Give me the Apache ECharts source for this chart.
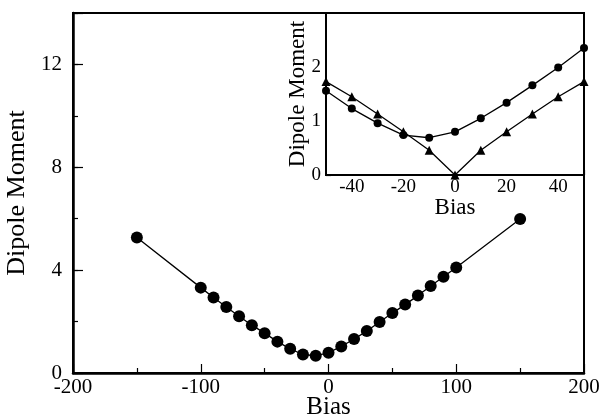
<!DOCTYPE html>
<html>
<head>
<meta charset="utf-8">
<script src="https://cdn.jsdelivr.net/npm/echarts@6/dist/echarts.min.js"></script>
<style>
  html, body { margin: 0; padding: 0; background: #fff; }
  #chart { width: 600px; height: 417px; }
</style>
</head>
<body>
<div id="chart"></div>
<script>
// main plot: bias vs dipole moment
var mainBias = [-150, -100, -90, -80, -70, -60, -50, -40, -30, -20, -10, 0, 10, 20, 30, 40, 50, 60, 70, 80, 90, 100, 150];
var mainDipole = [5.27, 3.32, 2.94, 2.57, 2.21, 1.86, 1.55, 1.22, 0.94, 0.72, 0.67, 0.79, 1.03, 1.32, 1.63, 1.98, 2.33, 2.66, 3.01, 3.38, 3.74, 4.10, 5.99];

// inset: zoom on -50..50, circles and triangles
var insetBias = [-50, -40, -30, -20, -10, 0, 10, 20, 30, 40, 50];
var insetCircle = [1.56, 1.23, 0.96, 0.74, 0.69, 0.80, 1.05, 1.34, 1.66, 1.99, 2.35];
var insetTriangle = [1.73, 1.45, 1.13, 0.80, 0.46, 0.00, 0.46, 0.80, 1.13, 1.45, 1.73];

var mainYLabels = [0, 4, 8, 12];
var insetXLabels = [-40, -20, 0, 20, 40];
var insetYLabels = [0, 1, 2];

function pairs(xs, ys) {
  var out = [];
  for (var i = 0; i < xs.length; i++) out.push([xs[i], ys[i]]);
  return out;
}

var font = 'Liberation Serif';
var dom = document.getElementById('chart');
var myChart = echarts.init(dom);

var option = {
  animation: false,
  grid: [
    { left: 73, top: 13, right: 16, bottom: 44, outerBoundsMode: 'none', containLabel: false,
      show: true, borderColor: '#000', borderWidth: 2, z: 1 },
    { left: 326, top: 13, right: 16, bottom: 242, outerBoundsMode: 'none', containLabel: false,
      show: true, borderColor: '#000', borderWidth: 2, backgroundColor: '#fff', z: 5 }
  ],
  xAxis: [
    {
      gridIndex: 0, type: 'value', min: -200, max: 200, interval: 100,
      name: 'Bias', nameLocation: 'middle', nameGap: 22, nameMoveOverlap: false,
      nameTextStyle: { fontFamily: font, fontSize: 25, color: '#000' },
      axisLine: { onZero: false, lineStyle: { color: '#000', width: 2.5 } },
      axisTick: { inside: true, length: 9, lineStyle: { color: '#000', width: 1.2 } },
      minorTick: { show: true, splitNumber: 2, length: 5, lineStyle: { color: '#000', width: 1.2 } },
      axisLabel: { fontFamily: font, fontSize: 21, color: '#000', margin: 4 },
      splitLine: { show: false }
    },
    {
      gridIndex: 1, type: 'value', min: -50, max: 50, interval: 10,
      name: 'Bias', nameLocation: 'middle', nameGap: 21, nameMoveOverlap: false,
      nameTextStyle: { fontFamily: font, fontSize: 23, color: '#000' },
      axisLine: { onZero: false, lineStyle: { color: '#000', width: 2 } },
      axisTick: { inside: true, length: 5, lineStyle: { color: '#000', width: 1.2 } },
      axisLabel: {
        fontFamily: font, fontSize: 19, color: '#000', margin: 3,
        formatter: function (v) { return insetXLabels.indexOf(v) >= 0 ? String(v) : ''; }
      },
      splitLine: { show: false }
    }
  ],
  yAxis: [
    {
      gridIndex: 0, type: 'value', min: 0, max: 14, interval: 4, position: 'left',
      name: 'Dipole Moment', nameLocation: 'middle', nameGap: 43, nameMoveOverlap: false,
      nameTextStyle: { fontFamily: font, fontSize: 26, color: '#000' },
      axisLine: { onZero: false, lineStyle: { color: '#000', width: 2.5 } },
      axisTick: { inside: true, length: 10, lineStyle: { color: '#000', width: 1.2 } },
      axisLabel: {
        fontFamily: font, fontSize: 21, color: '#000', margin: 11,
        formatter: function (v) { return mainYLabels.indexOf(v) >= 0 ? String(v) : ''; }
      },
      splitLine: { show: false }
    },
    {
      gridIndex: 0, type: 'value', min: 0, max: 14, interval: 2, position: 'left',
      axisLine: { show: false, onZero: false },
      axisTick: { inside: true, length: 5, lineStyle: { color: '#000', width: 1.2 } },
      axisLabel: { show: false },
      splitLine: { show: false }
    },
    {
      gridIndex: 1, type: 'value', min: 0, max: 3, interval: 0.5, position: 'left',
      name: 'Dipole Moment', nameLocation: 'middle', nameGap: 17, nameMoveOverlap: false,
      nameTextStyle: { fontFamily: font, fontSize: 23, color: '#000' },
      axisLine: { onZero: false, lineStyle: { color: '#000', width: 2 } },
      axisTick: { inside: true, length: 5, lineStyle: { color: '#000', width: 1.2 } },
      axisLabel: {
        fontFamily: font, fontSize: 19, color: '#000', margin: 5,
        formatter: function (v) { return insetYLabels.indexOf(v) >= 0 ? String(v) : ''; }
      },
      splitLine: { show: false }
    }
  ],
  series: [
    {
      type: 'line', xAxisIndex: 0, yAxisIndex: 0,
      data: pairs(mainBias, mainDipole),
      symbol: 'circle', symbolSize: 12,
      lineStyle: { color: '#000', width: 1.3 },
      itemStyle: { color: '#000' }
    },
    {
      type: 'line', xAxisIndex: 1, yAxisIndex: 2,
      data: pairs(insetBias, insetCircle),
      symbol: 'circle', symbolSize: 8, z: 6,
      lineStyle: { color: '#000', width: 1.3 },
      itemStyle: { color: '#000' }
    },
    {
      type: 'line', xAxisIndex: 1, yAxisIndex: 2,
      data: pairs(insetBias, insetTriangle),
      symbol: 'triangle', symbolSize: 9, z: 6,
      lineStyle: { color: '#000', width: 1.3 },
      itemStyle: { color: '#000' }
    }
  ]
};

myChart.setOption(option, true);
window.onresize = myChart.resize;
</script>
</body>
</html>
